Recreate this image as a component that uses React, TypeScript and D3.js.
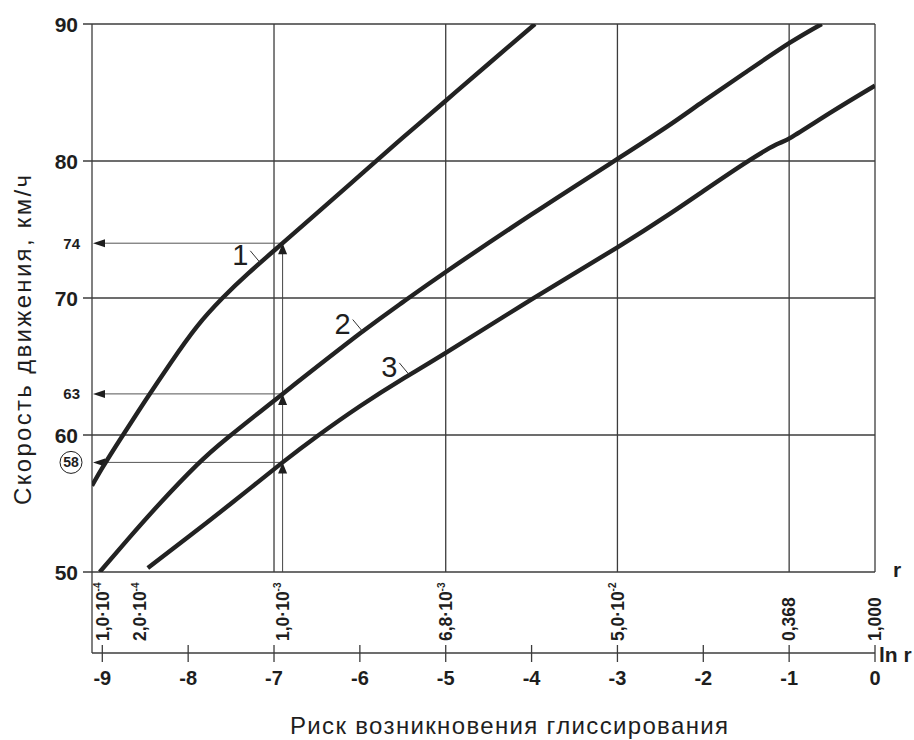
import React from "react";
import * as d3 from "d3";

type Pt = [number, number];

// Speed (km/h) against ln r for the three road conditions
const curve1: Pt[] = [
  [-9.12, 56.3], [-9.0, 57.6], [-8.8, 59.6], [-8.5, 62.5], [-8.2, 65.3],
  [-7.9, 67.9], [-7.6, 70.0], [-7.3, 71.8], [-6.9, 74.0], [-6.5, 76.2],
  [-6.0, 78.95], [-5.5, 81.7], [-5.0, 84.4], [-4.5, 87.1], [-3.96, 90.0],
];
const curve2: Pt[] = [
  [-9.03, 50.0], [-8.7, 52.4], [-8.33, 55.0], [-7.9, 57.8], [-7.54, 59.8],
  [-6.9, 63.0], [-6.0, 67.4], [-5.5, 69.7], [-5.0, 71.9], [-4.0, 76.1],
  [-3.0, 80.15], [-2.4, 82.6], [-2.0, 84.35], [-1.5, 86.5], [-1.0, 88.6],
  [-0.62, 90.0],
];
const curve3: Pt[] = [
  [-8.47, 50.3], [-8.0, 52.55], [-7.5, 55.0], [-6.9, 58.0], [-6.49, 59.95],
  [-6.0, 62.1], [-5.5, 64.1], [-5.0, 66.0], [-4.0, 69.9], [-3.0, 73.7],
  [-2.4, 76.1], [-2.0, 77.8], [-1.5, 79.9], [-1.15, 81.2], [-0.97, 81.75],
  [-0.5, 83.6], [0, 85.5],
];
const curves = [curve1, curve2, curve3];
const curveNames = ["1", "2", "3"];
const curveLabelLn = [-7.16, -5.967, -5.424];

const speedTicks = [50, 60, 70, 80, 90];
const lnTicks = [-9, -8, -7, -6, -5, -4, -3, -2, -1, 0];
const gridLn = [-7, -5, -3, -1];

// Risk r at selected ln r positions
const riskMantissa = ["1,0·10", "2,0·10", "1,0·10", "6,8·10", "5,0·10", "0,368", "1,000"];
const riskExponent = ["-4", "-4", "-3", "-3", "-2", "", ""];
const riskLn = [-9, -8.56, -6.9, -5, -3, -1, 0];

// Reading example at r = 1,0·10^-3
const readLn = -6.9;
const readSpeeds = [74, 63, 58];
const circledSpeed = 58;

const FONT = "'Liberation Sans', Arial, Helvetica, sans-serif";
const INK = "#1e1e1e";
const GRID = "#3c3c3c";

function valueAt(pts: Pt[], t: number): number {
  const i = Math.max(1, Math.min(pts.length - 1, d3.bisector((d: Pt) => d[0]).left(pts, t)));
  const [a, b] = [pts[i - 1], pts[i]];
  const k = (t - a[0]) / (b[0] - a[0]);
  return a[1] + k * (b[1] - a[1]);
}

export default function App() {
  const x = d3.scaleLinear().domain([-9.12, 0]).range([92, 875]);
  const y = d3.scaleLinear().domain([50, 90]).range([572, 24]);
  const [x0, x1] = x.range();
  const [yB, yT] = y.range();
  const axisY = yB + 81;
  const rx = x(readLn);

  const line = d3
    .line<Pt>()
    .x((d) => x(d[0]))
    .y((d) => y(d[1]))
    .curve(d3.curveNatural);

  return (
    <svg
      width={914}
      height={740}
      style={{ position: "absolute", left: 0, top: 0, background: "#fff" }}
      fontFamily={FONT}
    >
      <defs>
        <clipPath id="plotArea">
          <rect x={x0} y={yT} width={x1 - x0} height={yB - yT} />
        </clipPath>
      </defs>

      {/* horizontal grid and y ticks */}
      {speedTicks.map((v) => (
        <g key={"h" + v}>
          <line x1={x0 - 9} x2={x1} y1={y(v)} y2={y(v)} stroke={GRID} strokeWidth={1.3} />
          <text
            x={x0 - 14}
            y={y(v)}
            dy="0.36em"
            textAnchor="end"
            fontSize={21}
            fontWeight="bold"
            fill={INK}
          >
            {v}
          </text>
        </g>
      ))}

      {/* vertical grid */}
      {gridLn.map((t) => (
        <line key={"v" + t} x1={x(t)} x2={x(t)} y1={yT} y2={yB} stroke={GRID} strokeWidth={1.3} />
      ))}
      <line x1={x1} x2={x1} y1={yT} y2={yB} stroke={GRID} strokeWidth={1.3} />
      <line x1={x0} x2={x0} y1={yT} y2={axisY} stroke={GRID} strokeWidth={1.3} />

      {/* reading arrows */}
      <line x1={rx} x2={rx} y1={yB} y2={y(d3.max(readSpeeds)!)} stroke="#444" strokeWidth={1} />
      {readSpeeds.map((v) => {
        const yy = y(v);
        return (
          <g key={"r" + v}>
            <line x1={rx} x2={x0 + 4} y1={yy} y2={yy} stroke="#555" strokeWidth={1} />
            <path d={`M${x0 + 1},${yy} L${x0 + 13},${yy - 4} L${x0 + 13},${yy + 4} Z`} fill={INK} />
            <path d={`M${rx},${yy} L${rx - 4.5},${yy + 11} L${rx + 4.5},${yy + 11} Z`} fill={INK} />
            {v === circledSpeed ? (
              <g>
                <circle cx={x0 - 21} cy={yy} r={11} fill="#fff" stroke={INK} strokeWidth={1} />
                <text x={x0 - 21} y={yy} dy="0.36em" textAnchor="middle" fontSize={14} fontWeight="bold" fill={INK}>
                  {v}
                </text>
              </g>
            ) : (
              <text x={x0 - 12} y={yy} dy="0.36em" textAnchor="end" fontSize={15} fontWeight="bold" fill={INK}>
                {v}
              </text>
            )}
          </g>
        );
      })}

      {/* curves */}
      <g clipPath="url(#plotArea)">
        {curves.map((c, i) => (
          <path key={"c" + i} d={line(c)!} fill="none" stroke="#222" strokeWidth={4.4} />
        ))}
      </g>

      {/* curve labels */}
      {curves.map((c, i) => {
        const ex = x(curveLabelLn[i]);
        const ey = y(valueAt(c, curveLabelLn[i]));
        const sx = ex - 10;
        const sy = ey - 12;
        return (
          <g key={"l" + i}>
            <line x1={sx} y1={sy} x2={ex} y2={ey} stroke="#333" strokeWidth={1} />
            <text x={sx - 2} y={sy + 14} textAnchor="end" fontSize={29} fill={INK}>
              {curveNames[i]}
            </text>
          </g>
        );
      })}

      {/* risk labels */}
      {riskLn.map((t, i) => (
        <text
          key={"k" + i}
          transform={`translate(${x(t)},${yB + 69}) rotate(-90)`}
          dy="0.36em"
          fontSize={17.5}
          fontWeight="bold"
          fill={INK}
        >
          {riskMantissa[i]}
          {riskExponent[i] && (
            <tspan fontSize={10} dy="-0.75em">
              {riskExponent[i]}
            </tspan>
          )}
        </text>
      ))}
      <text x={x1 + 18} y={yB + 5} fontSize={21} fontWeight="bold" fill={INK}>
        r
      </text>

      {/* ln r axis */}
      <line x1={x0} x2={x1} y1={axisY} y2={axisY} stroke={GRID} strokeWidth={1.3} />
      {lnTicks.map((t) => (
        <g key={"t" + t}>
          <line x1={x(t)} x2={x(t)} y1={axisY - 8} y2={axisY + 9} stroke={GRID} strokeWidth={1.3} />
          <text x={x(t)} y={axisY + 32} textAnchor="middle" fontSize={20} fontWeight="bold" fill={INK}>
            {t}
          </text>
        </g>
      ))}
      <text x={x1 + 4} y={axisY + 9} fontSize={21} fontWeight="bold" fill={INK}>
        ln r
      </text>

      {/* axis titles */}
      <text x={290} y={734} fontSize={24} textLength={438} lengthAdjust="spacing" fill={INK}>
        Риск возникновения глиссирования
      </text>
      <text
        transform="translate(31,340) rotate(-90)"
        textAnchor="middle"
        fontSize={24}
        textLength={330}
        lengthAdjust="spacing"
        fill={INK}
      >
        Скорость движения, км/ч
      </text>
    </svg>
  );
}
